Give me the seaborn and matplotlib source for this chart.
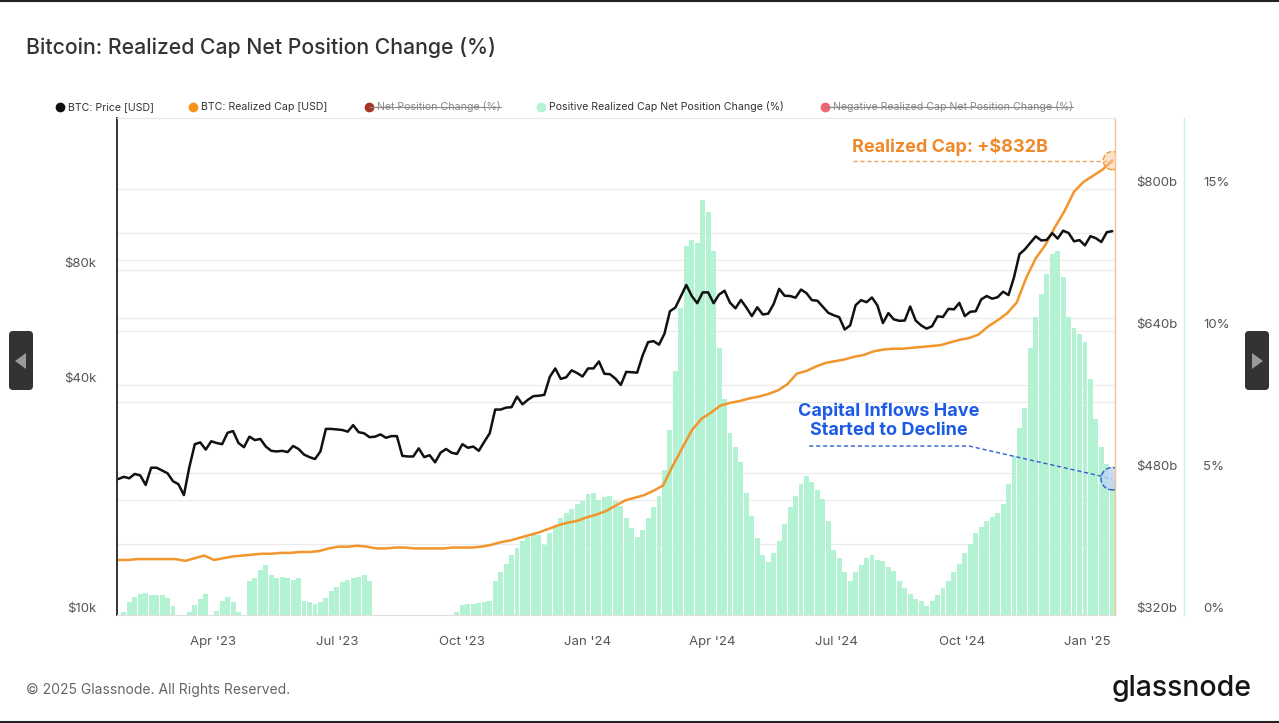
import numpy as np
import pandas as pd
import matplotlib.pyplot as plt
import matplotlib.dates as mdates
import matplotlib.transforms as mtransforms
from matplotlib.lines import Line2D
from matplotlib.patches import FancyBboxPatch, Polygon
import seaborn as sns

sns.set_style('white')
plt.rcParams['font.family'] = ['Inter', 'DejaVu Sans']

# every 4 days from 2023-01-22 to 2025-01-19
dates = pd.date_range('2023-01-22', periods=183, freq='4D')

# BTC price in $k
price_k = [
    22.7, 23.0, 22.8, 23.4, 23.2, 21.9, 24.3, 24.3, 23.9, 23.5,
    22.4, 22.0, 20.6, 24.4, 28.0, 28.3, 27.1, 28.5, 28.2, 28.0,
    30.0, 30.3, 28.2, 27.5, 29.3, 28.7, 28.9, 27.6, 26.9, 26.8,
    26.9, 26.7, 27.7, 27.2, 26.3, 25.9, 25.6, 26.8, 30.7, 30.7,
    30.6, 30.5, 30.2, 31.4, 30.1, 29.9, 29.2, 29.3, 29.7, 29.1,
    29.4, 29.4, 26.1, 26.0, 26.0, 27.3, 25.9, 26.2, 25.1, 26.6,
    27.2, 26.6, 26.4, 28.0, 27.4, 27.6, 26.9, 28.4, 29.9, 34.5,
    34.5, 34.9, 35.0, 37.3, 35.6, 36.6, 37.4, 37.5, 37.7, 42.0,
    44.2, 41.5, 41.9, 43.7, 43.0, 42.1,
    44.2, 44.2, 46.1, 42.8, 42.7, 41.6, 40.0, 43.3, 43.2, 43.1,
    47.8, 51.8, 52.1, 51.0, 54.5, 62.4, 63.8, 68.3, 73.1, 68.4,
    65.5, 69.9, 69.9, 65.5, 69.0, 70.6, 65.7, 63.5, 66.8, 63.8,
    60.6, 63.9, 61.2, 61.5, 65.2, 71.4, 68.5, 68.4, 67.7, 71.1,
    69.6, 66.7, 66.5, 64.1, 61.8, 60.9, 60.2, 55.9, 57.3, 64.7,
    66.7, 65.9, 67.8, 64.6, 58.1, 61.7, 59.4, 58.9, 59.0, 64.2,
    59.0, 57.3, 56.2, 57.0, 60.5, 60.3, 63.3, 63.1, 65.6, 60.6,
    62.2, 62.4, 67.0, 68.4, 67.3, 67.9, 70.2, 68.8, 76.5, 88.0,
    90.6, 94.3, 98.0, 95.6, 95.9, 99.9, 96.7, 101.4, 100.0, 95.1,
    95.8, 92.8,
    98.1, 96.9, 94.7, 100.5, 101.1,
]

# BTC realized cap in $b, weekly (Sundays)
rc_dates = pd.date_range('2023-01-22', periods=105, freq='7D')
realized_cap_b = [
    382, 382, 383, 383, 383, 383, 383, 381, 384, 387,
    382, 384, 386, 387, 388, 389, 389, 390, 390, 391,
    391, 392, 395, 397, 397, 398, 397, 395, 395, 396,
    396, 395, 395, 395, 395, 396, 396, 396, 397, 399,
    402, 404, 407, 410, 413, 417, 421, 424, 426, 430,
    433, 437, 443, 449, 452, 455, 460, 466, 488, 508,
    528, 541, 548, 556, 559, 561, 564, 566, 569, 573,
    580, 592, 595, 600, 604, 606, 608, 611, 613, 617,
    619, 620, 620, 621, 622, 623, 624, 627, 630, 632,
    636, 645, 652, 660, 672, 700, 722, 737, 757, 775,
    797, 808, 815, 822, 832,
]

# positive realized cap net position change (%)
npc_pos = [
    0, 0.1, 0.45, 0.65, 0.75, 0.78, 0.7, 0.72, 0.7, 0.6,
    0.3, 0, 0, 0.1, 0.35, 0.55, 0.75, 0, 0.15, 0.5,
    0.65, 0.45, 0.1, 0, 1.2, 1.3, 1.6, 1.75, 1.4, 1.3,
    1.35, 1.3, 1.25, 1.3, 0.5, 0.45, 0.4, 0.45, 0.6, 0.85,
    1.0, 1.15, 1.25, 1.3, 1.35, 1.4, 1.2, 0, 0, 0,
    0, 0, 0, 0, 0, 0, 0, 0, 0, 0,
    0, 0, 0.1, 0.35, 0.4, 0.4, 0.42, 0.45, 0.5, 1.2,
    1.5, 1.8, 2.1, 2.35, 2.6, 2.75, 2.9, 2.8, 2.45, 2.9,
    3.15, 3.4, 3.6, 3.75, 3.9, 4.0, 4.25, 4.3, 4.05, 4.15,
    4.2, 4.0, 3.85, 3.4, 3.05, 2.75, 3.0, 3.4, 3.8, 4.2,
    5.1, 6.5, 8.6, 10.8, 13.0, 13.2, 13.1, 14.6, 14.2, 12.8,
    9.4, 7.6, 6.4, 5.9, 5.4, 4.3, 3.5, 2.7, 2.1, 1.85,
    2.2, 2.6, 3.2, 3.8, 4.2, 4.6, 4.9, 4.7, 4.4, 4.1,
    3.3, 2.3, 2.0, 1.5, 1.2, 1.5, 1.75, 2.0, 2.1, 1.95,
    1.9, 1.7, 1.55, 1.2, 0.95, 0.75, 0.55, 0.5, 0.3, 0.5,
    0.7, 0.95, 1.2, 1.5, 1.8, 2.2, 2.5, 2.9, 3.1, 3.3,
    3.45, 3.6, 3.9, 4.6, 5.6, 6.6, 7.3, 9.4, 10.5, 11.3,
    12.0, 12.7, 12.8, 11.9, 10.5, 10.1, 9.9, 9.6, 8.3, 6.9,
    5.9, 5.3, 4.8,
]

price_usd = np.array(price_k) * 1000

legend_items = [
    ('BTC: Price [USD]', '#111111', False),
    ('BTC: Realized Cap [USD]', '#f7931a', False),
    ('Net Position Change (%)', '#a83224', True),
    ('Positive Realized Cap Net Position Change (%)', '#b5f3d5', False),
    ('Negative Realized Cap Net Position Change (%)', '#f2646f', True),
]

ORANGE = '#f2952c'
BLUE = '#1d5be6'
MINT = '#b3f2d3'
TICK_C = '#555555'

W, H = 1279, 723
L, R, B, T = 117, 1115, 615, 118
fig = plt.figure(figsize=(W / 100, H / 100), dpi=100)
ax = fig.add_axes([L / W, 1 - B / H, (R - L) / W, (B - T) / H])
ax_pct = ax.twinx()
ax_rc = ax.twinx()
ax_pct.set_zorder(1)
ax_rc.set_zorder(2)
ax.set_zorder(3)
ax.patch.set_visible(False)
ax_pct.spines['right'].set_position(('axes', (1184 - L) / (R - L)))

# bars
ax_pct.bar(dates, npc_pos, width=3.6, color=MINT, linewidth=0)

# lines
sns.lineplot(x=rc_dates, y=realized_cap_b, ax=ax_rc, color=ORANGE, linewidth=1.8)
sns.lineplot(x=dates, y=price_usd, ax=ax, color='#111111', linewidth=1.8)

# scales
ax.set_yscale('log')
ax.set_ylim(1e4, 2e5)
ax_rc.set_ylim(320, 880)
ax_pct.set_ylim(0, 17.5)
ax.set_xlim(pd.Timestamp('2023-01-21'), pd.Timestamp('2025-01-21'))

# gridlines drawn beneath the bars
blend_p = mtransforms.blended_transform_factory(ax_pct.transAxes, ax.transData)
for v in [2e4, 4e4, 6e4, 8e4, 1e5]:
    ax_pct.add_line(Line2D([0, 1], [v, v], transform=blend_p, color='#ebebeb', lw=0.9, zorder=0))
blend_r = mtransforms.blended_transform_factory(ax_pct.transAxes, ax_rc.transData)
for v in [400, 480, 560, 640, 720, 800]:
    ax_pct.add_line(Line2D([0, 1], [v, v], transform=blend_r, color='#ebebeb', lw=0.9, zorder=0))

# ticks
ax.yaxis.set_minor_locator(plt.NullLocator())
ax.set_yticks([1e4, 4e4, 8e4], ['$10k', '$40k', '$80k'])
ax_rc.set_yticks([320, 480, 640, 800], ['$320b', '$480b', '$640b', '$800b'])
ax_pct.set_yticks([0, 5, 10, 15], ['0%', '5%', '10%', '15%'])
ax.xaxis.set_major_locator(mdates.MonthLocator(bymonth=[1, 4, 7, 10]))
ax.xaxis.set_major_formatter(mdates.DateFormatter("%b '%y"))
ax.tick_params(axis='x', length=0, pad=15, labelsize=9.5, labelcolor=TICK_C)
ax.tick_params(axis='y', length=0, pad=15, labelsize=9.5, labelcolor=TICK_C)
ax_rc.tick_params(axis='y', length=0, pad=15, labelsize=9.5, labelcolor=TICK_C)
ax_pct.tick_params(axis='y', length=0, pad=14, labelsize=9.5, labelcolor=TICK_C)
for a in (ax, ax_rc, ax_pct):
    a.set_xlabel('')
    a.set_ylabel('')
    for lab in a.get_yticklabels():
        lab.set_verticalalignment('bottom')

# spines
for s in ['top', 'bottom', 'left', 'right']:
    ax_rc.spines[s].set_visible(s == 'right')
    ax_pct.spines[s].set_visible(s == 'right')
ax.spines['right'].set_visible(False)
ax.spines['left'].set_color('#222222')
ax.spines['left'].set_linewidth(1.3)
ax.spines['top'].set_color('#e8e8e8')
ax.spines['top'].set_linewidth(0.9)
ax.spines['bottom'].set_color('#e0e0e0')
ax.spines['bottom'].set_linewidth(0.9)
ax_rc.spines['right'].set_color('#f6c18c')
ax_rc.spines['right'].set_linewidth(1.0)
ax_pct.spines['right'].set_color('#cdf3df')
ax_pct.spines['right'].set_linewidth(1.0)

# annotation: realized cap
last_date = rc_dates[-1]
ax_rc.plot([pd.Timestamp('2024-07-13'), last_date], [realized_cap_b[-1]] * 2,
           ls=(0, (3, 2)), color='#f2a35a', lw=1)
ax_rc.scatter([last_date], [realized_cap_b[-1]], s=170, facecolor=(0.98, 0.78, 0.6, 0.5),
              edgecolor=ORANGE, linestyle='--', linewidth=1, zorder=6)
ax_rc.text((852 - L) / (R - L), (B - 146) / (B - T), 'Realized Cap: +$832B',
           transform=ax_rc.transAxes, ha='left', va='center', fontsize=13,
           fontweight='bold', color='#f0892a')

# annotation: capital inflows
ax_pct.plot([pd.Timestamp('2024-06-11'), pd.Timestamp('2024-10-06'), dates[-1]],
            [5.95, 5.95, npc_pos[-1]], ls=(0, (3, 2)), color='#2f5fd0', lw=1)
ax_pct.scatter([dates[-1]], [npc_pos[-1]], s=260, facecolor=(0.75, 0.83, 0.96, 0.8),
               edgecolor='#2e5cc9', linestyle='--', linewidth=1, zorder=6)
ax_rc.text((889 - L) / (R - L), (B - 421) / (B - T), 'Capital Inflows Have\nStarted to Decline',
           transform=ax_rc.transAxes, ha='center', va='center', fontsize=13,
           fontweight='bold', color=BLUE, linespacing=1.15)

# title and footer
fig.text(26 / W, 1 - 47 / H, 'Bitcoin: Realized Cap Net Position Change (%)',
         fontsize=15.3, fontweight='medium', color='#333333', va='center')
fig.text(26 / W, 1 - 690 / H, '\u00a9 2025 Glassnode. All Rights Reserved.',
         fontsize=10, color='#666666', va='center')
fig.text(1252 / W, 1 - 688 / H, 'glassnode', ha='right', va='center',
         fontsize=20.5, fontweight='medium', color='#151515')

# legend row
ident = mtransforms.IdentityTransform()
dot_x = [60, 193, 369, 541, 825]
leg_y = H - 107
texts = []
for (label, col, struck), dx in zip(legend_items, dot_x):
    fig.add_artist(Line2D([dx], [leg_y], transform=ident, marker='o', ms=6,
                          color=col, linestyle=''))
    t = fig.text((dx + 8) / W, leg_y / H, label, fontsize=7.6,
                 color='#888888' if struck else '#333333', va='center')
    texts.append((t, dx, struck))

fig.canvas.draw()
for t, dx, struck in texts:
    if struck:
        bb = t.get_window_extent()
        ym = bb.y0 + bb.height * 0.5
        fig.add_artist(Line2D([dx, bb.x1], [ym, ym], transform=ident,
                              color='#888888', lw=0.8))

# nav buttons and frame
for x0, pts in [(9, [(15, 361), (26, 353), (26, 369)]),
                (1245, [(1263, 361), (1252, 353), (1252, 369)])]:
    fig.add_artist(FancyBboxPatch((x0, H - 390), 24, 59, boxstyle='round,pad=0,rounding_size=4',
                                  transform=ident, facecolor='#333333', edgecolor='none'))
    fig.add_artist(Polygon([(px, H - py) for px, py in pts], closed=True,
                           transform=ident, facecolor='#9a9a9a', edgecolor='none'))
fig.add_artist(Line2D([0, W], [H - 1, H - 1], transform=ident, color='#222222', lw=1.5))
fig.add_artist(Line2D([0, W], [1, 1], transform=ident, color='#222222', lw=1.5))

fig.savefig('out.png', dpi=100)
